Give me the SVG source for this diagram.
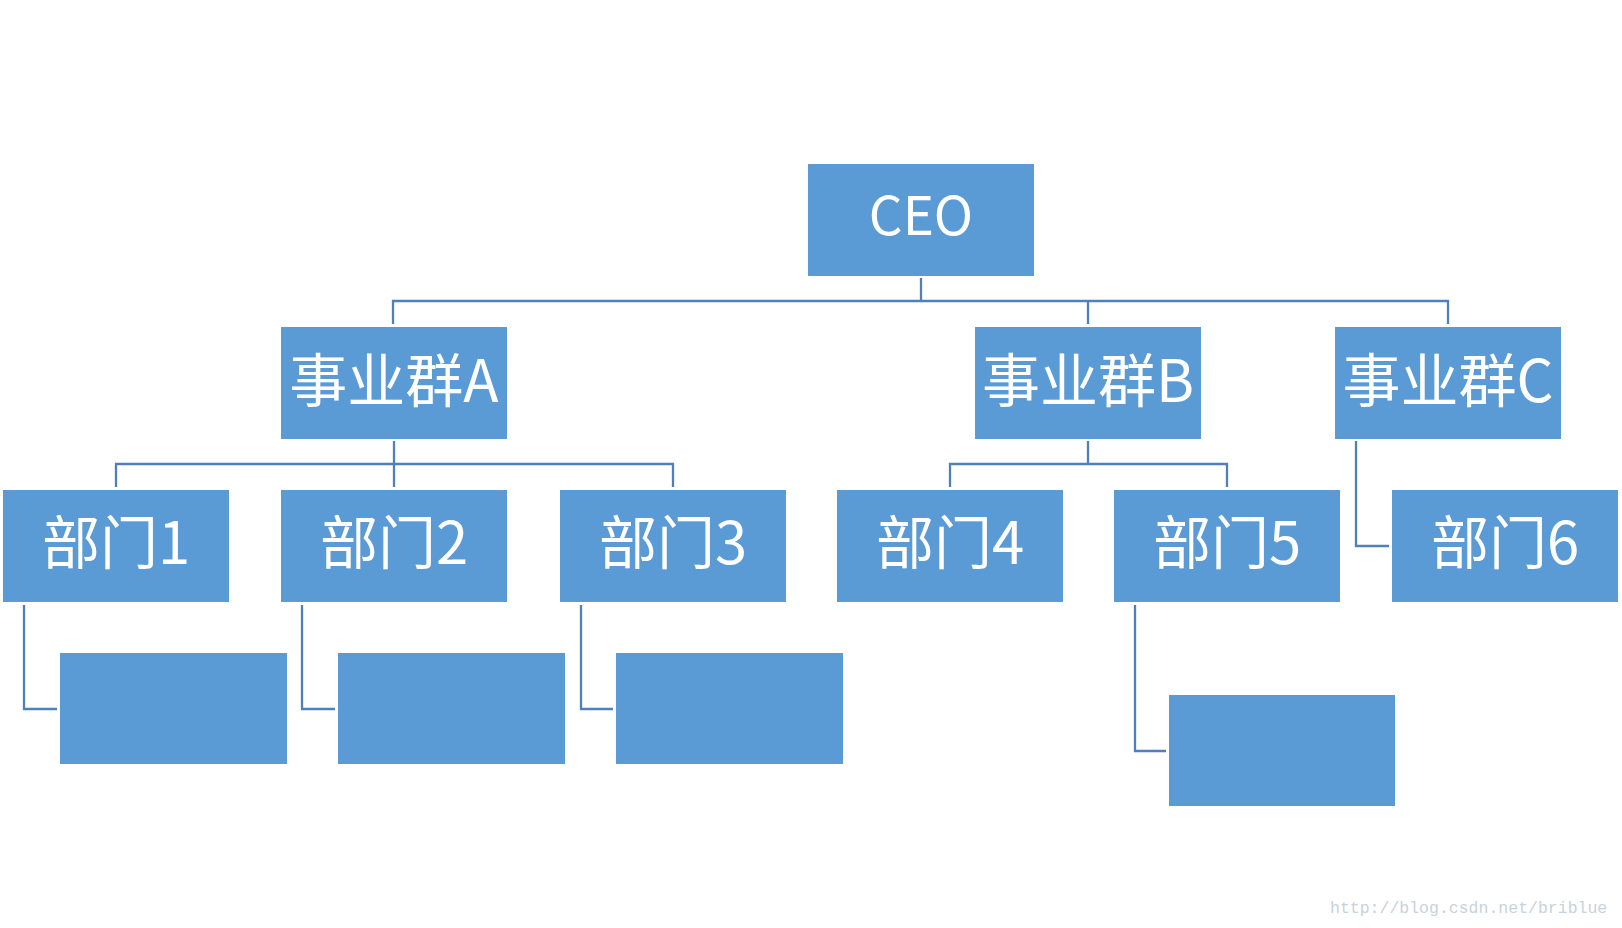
<svg xmlns="http://www.w3.org/2000/svg" width="1622" height="928" viewBox="0 0 1622 928">
<style>
.box{fill:#5B9BD5;}
.lbl{fill:#FFFFFF;font-family:"Noto Sans CJK SC","Noto Sans",sans-serif;font-size:58px;text-anchor:middle;}
.ceo{font-size:53px;}
.conn{fill:none;stroke:#4F80BC;stroke-width:2.3;}
.wm{fill:#C8D2DC;font-family:"Liberation Mono","DejaVu Sans Mono",monospace;font-size:16.5px;}
</style>
<rect width="1622" height="928" fill="#FFFFFF"/>
<g id="connectors">
<path class="conn" d="M921 278 V301 M393 324 V301 H1448 V324 M1088 301 V324"/>
<path class="conn" d="M394 441 V464 M116 487 V464 H673 V487 M394 464 V487"/>
<path class="conn" d="M1088 441 V464 M950 487 V464 H1227 V487"/>
<path class="conn" d="M1356 441 V546 H1389"/>
<path class="conn" d="M24 605 V709 H57"/>
<path class="conn" d="M302 605 V709 H335"/>
<path class="conn" d="M581 605 V709 H613"/>
<path class="conn" d="M1135 605 V751 H1166"/>
</g>
<g id="ceo"><rect class="box" x="808" y="164" width="226" height="112"/><text class="lbl ceo" x="921" y="235">CEO</text></g>
<g id="groupA"><rect class="box" x="281" y="327" width="226" height="112"/><text class="lbl" x="394" y="402">事业群A</text></g>
<g id="groupB"><rect class="box" x="975" y="327" width="226" height="112"/><text class="lbl" x="1088" y="402">事业群B</text></g>
<g id="groupC"><rect class="box" x="1335" y="327" width="226" height="112"/><text class="lbl" x="1448" y="402">事业群C</text></g>
<g id="dept1"><rect class="box" x="3" y="490" width="226" height="112"/><text class="lbl" x="116" y="564">部门1</text></g>
<g id="dept2"><rect class="box" x="281" y="490" width="226" height="112"/><text class="lbl" x="394" y="564">部门2</text></g>
<g id="dept3"><rect class="box" x="560" y="490" width="226" height="112"/><text class="lbl" x="673" y="564">部门3</text></g>
<g id="dept4"><rect class="box" x="837" y="490" width="226" height="112"/><text class="lbl" x="950" y="564">部门4</text></g>
<g id="dept5"><rect class="box" x="1114" y="490" width="226" height="112"/><text class="lbl" x="1227" y="564">部门5</text></g>
<g id="dept6"><rect class="box" x="1392" y="490" width="226" height="112"/><text class="lbl" x="1505" y="564">部门6</text></g>
<g id="sub1"><rect class="box" x="60" y="653" width="227" height="111"/></g>
<g id="sub2"><rect class="box" x="338" y="653" width="227" height="111"/></g>
<g id="sub3"><rect class="box" x="616" y="653" width="227" height="111"/></g>
<g id="sub5"><rect class="box" x="1169" y="695" width="226" height="111"/></g>
<text class="wm" x="1330" y="913">http://blog.csdn.net/briblue</text>
</svg>
